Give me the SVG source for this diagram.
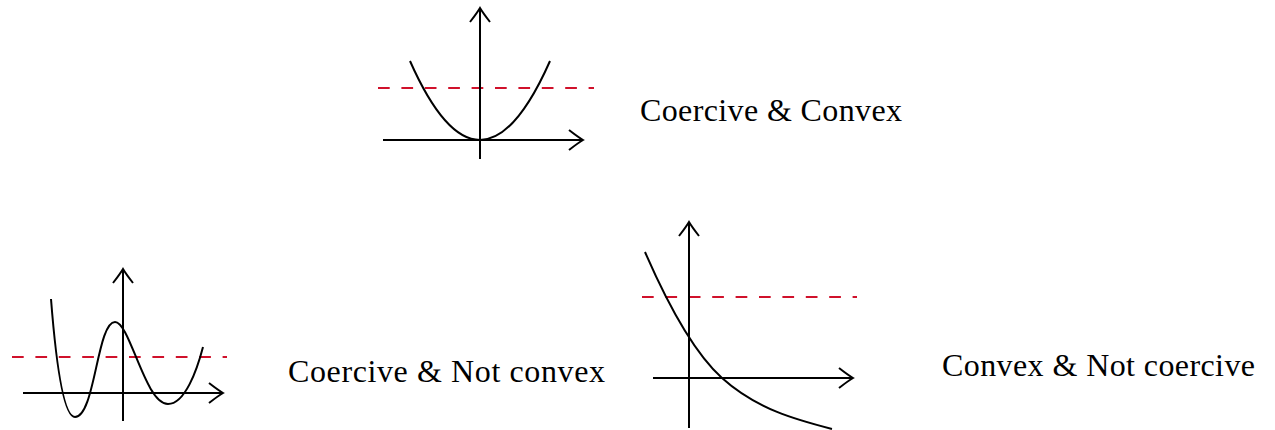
<svg xmlns="http://www.w3.org/2000/svg" width="1275" height="430" viewBox="0 0 1275 430">
<style>
.ax{fill:none;stroke:#000;stroke-width:2;marker-end:url(#arr)}
.cv{fill:none;stroke:#000;stroke-width:2}
.dash{fill:none;stroke:#d0112b;stroke-width:1.8;stroke-dasharray:11.7 11.7}
.lbl{font-family:"Liberation Serif","DejaVu Serif",serif;font-size:32px;fill:#000}
</style>
<defs>
<marker id="arr" markerUnits="userSpaceOnUse" markerWidth="30" markerHeight="30" viewBox="-16 -15 20 30" refX="0" refY="0" orient="auto">
<path d="M-14,-10 Q-5,-3 0,0 Q-5,3 -14,10" fill="none" stroke="#000" stroke-width="2"/>
</marker>
</defs>
<g id="plot-coercive-convex">
<line class="dash" x1="378" y1="88" x2="594" y2="88"/>
<line class="ax" x1="383" y1="140" x2="583" y2="140"/>
<line class="ax" x1="480" y1="159" x2="480" y2="8"/>
<path class="cv" d="M410,61 Q480,219 550,61"/>
<text class="lbl" x="640" y="121" textLength="262">Coercive &amp; Convex</text>
</g>
<g id="plot-coercive-notconvex">
<line class="dash" x1="12" y1="357" x2="227" y2="357"/>
<line class="ax" x1="23" y1="393" x2="223" y2="393"/>
<line class="ax" x1="123" y1="421" x2="123" y2="269"/>
<path class="cv" d="M51,299 C55,350 62,417 75,417 C95,417 97,322 115,322 C130,322 145,404 168,404 C185,404 197,370 203,347"/>
<text class="lbl" x="288" y="382" textLength="317">Coercive &amp; Not convex</text>
</g>
<g id="plot-convex-notcoercive">
<line class="dash" x1="642" y1="297" x2="857" y2="297"/>
<line class="ax" x1="653" y1="378" x2="853" y2="378"/>
<line class="ax" x1="689" y1="428" x2="689" y2="222"/>
<path class="cv" d="M645,252 C670,309.5 697,355.5 722,378 C757,409.5 797,420 832,429"/>
<text class="lbl" x="942" y="376" textLength="313">Convex &amp; Not coercive</text>
</g>
</svg>
